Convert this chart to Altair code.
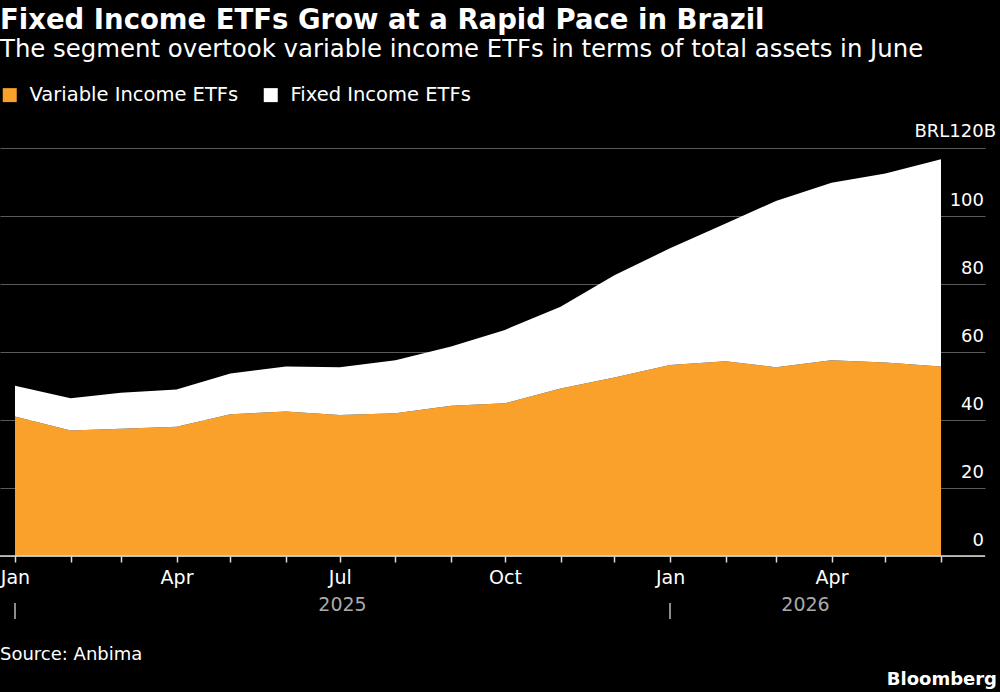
import altair as alt
import pandas as pd

# ---- data (BRL billions) ----
months = [
    "2025-01-01", "2025-02-01", "2025-03-01", "2025-04-01", "2025-05-01", "2025-06-01",
    "2025-07-01", "2025-08-01", "2025-09-01", "2025-10-01", "2025-11-01", "2025-12-01",
    "2026-01-01", "2026-02-01", "2026-03-01", "2026-04-01", "2026-05-01", "2026-06-01",
]
variable_income = [41.0, 36.9, 37.4, 38.0, 41.7, 42.5, 41.5, 42.0, 44.2,
                   44.9, 49.3, 52.5, 56.2, 57.3, 55.5, 57.6, 56.9, 55.7]
fixed_income = [9.1, 9.5, 10.6, 11.0, 12.0, 13.2, 14.0, 15.6, 17.4,
                21.6, 24.0, 30.1, 34.3, 40.5, 48.9, 52.2, 55.6, 61.0]
series_names = ["Variable Income ETFs", "Fixed Income ETFs"]
series_colors = ["#F9A12B", "#FFFFFF"]
y_ticks = [0, 20, 40, 60, 80, 100, 120]
y_top_label = "BRL120B"
years = ["2025", "2026"]

title_text = "Fixed Income ETFs Grow at a Rapid Pace in Brazil"
subtitle_text = "The segment overtook variable income ETFs in terms of total assets in June"
source_text = "Source: Anbima"
brand_text = "Bloomberg"

FONT = "DejaVu Sans"

# ---- layout (pixels) ----
PLOT_W = 985
PLOT_H = 408
LEFT_GAP = 15      # space before the first month
RIGHT_GAP = 44     # space after the last month (room for the value labels)

# ---- tables built from the arrays ----
rows = []
for i, m in enumerate(months):
    rows.append({"date": m, "series": series_names[0], "value": variable_income[i], "order": 0})
    rows.append({"date": m, "series": series_names[1], "value": fixed_income[i], "order": 1})
df = pd.DataFrame(rows)

ymax = max(y_ticks)
ylab_df = pd.DataFrame({
    "v": [t for t in y_ticks if t != ymax],
    "label": [str(t) for t in y_ticks if t != ymax],
})
ytop_df = pd.DataFrame({"v": [ymax], "label": [y_top_label]})

dates = pd.to_datetime(pd.Series(months))
year_rows = []
sep_rows = []
for y in years:
    yd = dates[dates.dt.year == int(y)]
    start = yd.min()
    nxt = dates[dates.dt.year > int(y)]
    end = nxt.min() if len(nxt) else dates.max()
    mid = start + (end - start) / 2
    year_rows.append({"year": y, "date": mid.strftime("%Y-%m-%dT%H:%M:%S")})
    sep_rows.append({"date": start.strftime("%Y-%m-%d")})
years_df = pd.DataFrame(year_rows)
seps_df = pd.DataFrame(sep_rows)

# x domain widened so the data occupy [LEFT_GAP, PLOT_W - RIGHT_GAP]
t0 = dates.min().value / 1e6
t1 = dates.max().value / 1e6
span = t1 - t0
inner = PLOT_W - LEFT_GAP - RIGHT_GAP
d0 = t0 - span * LEFT_GAP / inner
d1 = t1 + span * RIGHT_GAP / inner

tick_values = [
    alt.DateTime(year=int(m[:4]), month=int(m[5:7]), date=1, utc=True) for m in months
]

x_scale = alt.Scale(type="utc", domain=[d0, d1], nice=False)
y_scale = alt.Scale(domain=[0, ymax])

x_axis = alt.Axis(
    values=tick_values,
    labelExpr="indexof([0,3,6,9], utcmonth(datum.value)) >= 0 ? utcFormat(datum.value, '%b') : ''",
    domain=False,
    grid=False,
    ticks=True,
    tickColor="#dddddd",
    tickSize=6,
    tickWidth=1.5,
    labelColor="#ffffff",
    labelFont=FONT,
    labelFontSize=19,
    labelPadding=6,
    labelFlush=False,
    labelOverlap=False,
    labelBound=False,
    title=None,
)

y_axis = alt.Axis(
    orient="right",
    values=y_ticks,
    grid=True,
    gridColor="#5a5a5a",
    gridWidth=1.2,
    domain=False,
    ticks=False,
    labels=False,
    title=None,
)

area = alt.Chart(df).mark_area(opacity=1, interpolate="linear").encode(
    x=alt.X("date:T", scale=x_scale, axis=x_axis),
    y=alt.Y("value:Q", stack="zero", scale=y_scale, axis=y_axis),
    color=alt.Color(
        "series:N",
        scale=alt.Scale(domain=series_names, range=series_colors),
        legend=alt.Legend(
            orient="none",
            legendX=0,
            legendY=-63,
            direction="horizontal",
            title=None,
            symbolType="square",
            symbolSize=196,
            symbolStrokeWidth=0,
            symbolOpacity=1,
            labelColor="#ffffff",
            labelFont=FONT,
            labelFontSize=19.5,
            labelLimit=0,
            labelOffset=10,
            columnPadding=22,
            padding=0,
        ),
    ),
    order=alt.Order("order:Q"),
)

baseline = alt.Chart(pd.DataFrame({"v": [0]})).mark_rule(color="#dddddd", strokeWidth=1.5).encode(
    y=alt.Y("v:Q", scale=y_scale),
    x=alt.value(0),
    x2=alt.value(PLOT_W),
)

y_labels = alt.Chart(ylab_df).mark_text(
    font=FONT, fontSize=18, color="#ffffff", align="right", baseline="alphabetic", dy=-10
).encode(y=alt.Y("v:Q", scale=y_scale), x=alt.value(PLOT_W - 1), text="label:N")

y_top = alt.Chart(ytop_df).mark_text(
    font=FONT, fontSize=18, color="#ffffff", align="right", baseline="alphabetic", dy=-11
).encode(y=alt.Y("v:Q", scale=y_scale), x=alt.value(PLOT_W + 11), text="label:N")

year_labels = alt.Chart(years_df).mark_text(
    font=FONT, fontSize=19, color="#aaaaaa", baseline="middle", align="center"
).encode(
    x=alt.X("date:T"),
    y=alt.value(457),
    text="year:N",
)

separators = alt.Chart(seps_df).mark_rule(color="#bbbbbb", strokeWidth=1.5).encode(
    x=alt.X("date:T"),
    y=alt.value(455),
    y2=alt.value(471),
)

source = alt.Chart(pd.DataFrame({"t": [source_text]})).mark_text(
    font=FONT, fontSize=18, color="#ffffff", align="left", baseline="alphabetic"
).encode(x=alt.value(0), y=alt.value(512), text="t:N")

brand = alt.Chart(pd.DataFrame({"t": [brand_text]})).mark_text(
    font=FONT, fontSize=18, fontWeight="bold", color="#ffffff", align="right", baseline="alphabetic"
).encode(x=alt.value(997), y=alt.value(537), text="t:N")

chart = alt.layer(area, baseline, y_labels, y_top, separators, year_labels, source, brand).properties(
    width=PLOT_W,
    height=PLOT_H,
    autosize=alt.AutoSizeParams(type="none"),
    padding={"left": 0, "top": 148, "right": 1000 - PLOT_W, "bottom": 692 - 148 - PLOT_H},
    background="#000000",
    title=alt.TitleParams(
        text=title_text,
        subtitle=subtitle_text,
        anchor="start",
        frame="group",
        color="#ffffff",
        subtitleColor="#ffffff",
        font=FONT,
        subtitleFont=FONT,
        fontSize=27.5,
        fontWeight="bold",
        subtitleFontSize=24.4,
        subtitlePadding=3,
        offset=24,
    ),
).configure_view(stroke=None)

chart.save("out.html", embed_options={"renderer": "svg", "actions": False})
